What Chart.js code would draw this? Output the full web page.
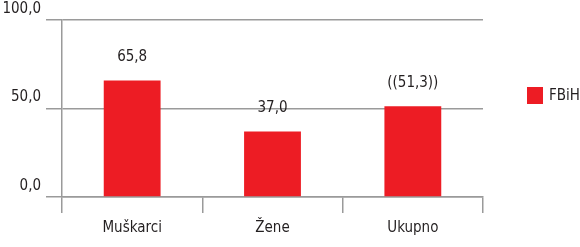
<!DOCTYPE html>
<html>
<head>
<meta charset="utf-8">
<script src="https://cdn.jsdelivr.net/npm/chart.js@4/dist/chart.umd.min.js"></script>
<style>
  html, body { margin: 0; padding: 0; background: #fff; }
  #wrap { width: 580px; height: 247px; }
</style>
</head>
<body>
<div id="wrap"><canvas id="myChart" width="580" height="247"></canvas></div>
<script>
// data
const categories = ["Muškarci", "Žene", "Ukupno"];
const fbihValues = [65.8, 37.0, 51.3];
const valueLabels = ["65,8", "37,0", "((51,3))"];
const yTicks = [0, 50, 100];
const seriesName = "FBiH";

const red = "#ed1c24";
const gridColor = "#9a9a9a";
const fontFamily = "'Liberation Sans Narrow', 'DejaVu Sans Condensed', sans-serif";
const textColor = "#231f20";

//labels above the bars
const valueLabelPlugin = {
  id: "valueLabels",
  afterDatasetsDraw(chart) {
    const ctx = chart.ctx;
    const meta = chart.getDatasetMeta(0);
    ctx.save();
    ctx.font = "15px " + fontFamily;
    ctx.fillStyle = textColor;
    ctx.textAlign = "center";
    ctx.textBaseline = "middle";
    meta.data.forEach((bar, i) => {
      ctx.fillText(valueLabels[i], bar.x, bar.y - 23);
    });
    ctx.restore();
  },
};

//legend on the right
const sideLegendPlugin = {
  id: "sideLegend",
  afterDraw(chart) {
    const ctx = chart.ctx;
    const ds = chart.data.datasets[0];
    ctx.save();
    ctx.fillStyle = ds.backgroundColor;
    ctx.fillRect(527, 87, 16, 17);
    ctx.font = "15px " + fontFamily;
    ctx.fillStyle = textColor;
    ctx.textAlign = "left";
    ctx.textBaseline = "middle";
    ctx.fillText(ds.label, 549, 96);
    ctx.restore();
  },
};

new Chart("myChart", {
  type: "bar",
  data: {
    labels: categories,
    datasets: [
      {
        label: seriesName,
        data: fbihValues,
        backgroundColor: red,
        barPercentage: 0.405,
        categoryPercentage: 1,
      },
    ],
  },
  options: {
    responsive: false,
    animation: false,
    layout: { padding: { top: 20, right: 97, left: 0, bottom: 0 } },
    plugins: {
      legend: { display: false },
      tooltip: { enabled: false },
    },
    scales: {
      x: {
        offset: true,
        grid: {
          offset: true,
          drawOnChartArea: false,
          color: gridColor,
          lineWidth: 1.5,
          tickLength: 16,
        },
        border: { display: true, color: gridColor, width: 1.5 },
        ticks: {
          color: textColor,
          font: { family: fontFamily, size: 15 },
          padding: 6,
        },
        afterFit: (scale) => {
          scale.height = 50;
        },
      },
      y: {
        min: 0,
        max: 100,
        afterBuildTicks: (scale) => {
          scale.ticks = yTicks.map((v) => ({ value: v }));
        },
        grid: {
          color: gridColor,
          lineWidth: 1.5,
          tickLength: 16,
        },
        border: { display: true, color: gridColor, width: 1.5 },
        ticks: {
          color: textColor,
          font: { family: fontFamily, size: 15 },
          padding: 5,
          labelOffset: -11,
          callback: (v) => v.toFixed(1).replace(".", ","),
        },
        afterFit: (scale) => {
          scale.width = 62;
        },
      },
    },
  },
  plugins: [valueLabelPlugin, sideLegendPlugin],
});
</script>
</body>
</html>
